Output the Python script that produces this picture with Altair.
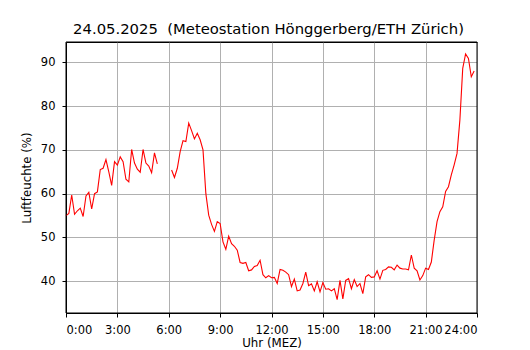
import altair as alt
import pandas as pd

# Relative humidity (%) in 10-minute steps, 24.05.2025
# segment 1: 00:00 .. 05:20
seg1_start = "00:00"
seg1_values = [
    55.0, 55.5, 59.7, 55.3, 56.1, 56.7,   # 0h
    54.8, 59.5, 60.3, 56.5, 60.0, 60.4,   # 1h
    65.5, 65.8, 67.8, 65.0, 61.9, 67.3,   # 2h
    66.5, 68.4, 67.3, 63.3, 62.7, 70.1,   # 3h
    67.0, 65.6, 64.9, 70.1, 67.0, 66.3,   # 4h
    64.8, 69.3, 66.8,                     # 5h
]
# segment 2: 06:10 .. 23:50
seg2_start = "06:10"
seg2_values = [
    65.4, 63.7, 65.8, 69.6, 72.1,         # 6h (from 6:10)
    71.9, 76.1, 74.4, 72.5, 73.8, 72.3,   # 7h
    70.0, 60.0, 55.1, 53.0, 51.4, 53.6,   # 8h
    53.2, 49.0, 47.3, 50.3, 48.6, 48.0,   # 9h
    47.1, 44.3, 44.1, 44.3, 42.4, 42.6,   # 10h
    43.4, 43.6, 44.8, 41.5, 40.8, 41.3,   # 11h
    40.8, 40.9, 39.5, 42.7, 42.5, 42.1,   # 12h
    41.5, 38.8, 40.5, 37.8, 38.0, 39.5,   # 13h
    42.1, 39.0, 39.4, 37.8, 39.9, 37.6,   # 14h
    39.7, 38.2, 38.3, 37.8, 38.3, 35.8,   # 15h
    40.2, 36.0, 40.2, 40.6, 38.3, 40.4,   # 16h
    38.8, 39.5, 37.2, 41.0, 41.5, 40.9,   # 17h
    41.0, 42.4, 40.5, 42.5, 42.7, 43.3,   # 18h
    43.2, 42.6, 43.7, 43.0, 42.8, 42.8,   # 19h
    42.6, 46.0, 43.0, 42.4, 40.3, 41.3,   # 20h
    43.0, 42.7, 44.4, 49.4, 53.6, 55.9,   # 21h
    57.0, 60.5, 61.6, 64.3, 66.6, 69.2,   # 22h
    76.8, 88.6, 91.9, 90.9, 86.7, 88.0,   # 23h
]
step_minutes = 10
x_ticks = [0, 3, 6, 9, 12, 15, 18, 21, 24]
y_ticks = [40, 50, 60, 70, 80, 90]
title_text = "24.05.2025\u00a0 (Meteostation Hönggerberg/ETH Zürich)"

def to_hours(hhmm):
    h, m = hhmm.split(":")
    return int(h) + int(m) / 60.0

rows = []
for seg, start, vals in [(1, seg1_start, seg1_values), (2, seg2_start, seg2_values)]:
    t0 = to_hours(start)
    for i, v in enumerate(vals):
        rows.append({"hour": t0 + i * step_minutes / 60.0, "rh": v, "seg": seg})
df = pd.DataFrame(rows)

W, H = 411, 271
FONT = "DejaVu Sans"

line = alt.Chart(df).mark_line(color="red", strokeWidth=1.1).encode(
    x=alt.X("hour:Q",
            scale=alt.Scale(domain=[0, 24], nice=False, zero=False),
            axis=alt.Axis(values=x_ticks, labelExpr="datum.value + ':00'",
                          title="Uhr (MEZ)", labelPadding=7, titlePadding=2)),
    y=alt.Y("rh:Q",
            scale=alt.Scale(domain=[32.76, 94.63], nice=False, zero=False),
            axis=alt.Axis(values=y_ticks, title="Luftfeuchte (%)",
                          labelPadding=7, titlePadding=8)),
    detail="seg:N",
)

frame = alt.Chart(pd.DataFrame({"a": [0]})).mark_rect(
    fillOpacity=0, stroke="black", strokeWidth=1
).encode(x=alt.value(0), x2=alt.value(W), y=alt.value(0), y2=alt.value(H))

chart = alt.layer(line, frame).properties(
    width=W, height=H,
    title=alt.TitleParams(
        text=title_text,
        font=FONT, fontSize=14.8, fontWeight="normal", color="black",
        anchor="middle", baseline="bottom", offset=4, dy=14, dx=-3,
    ),
    autosize=alt.AutoSizeParams(type="none"),
    padding={"left": 58, "top": 34, "right": 45, "bottom": 36},
).configure_axis(
    labelFont=FONT, labelFontSize=11.5, labelColor="black",
    titleFont=FONT, titleFontSize=11.8, titleFontWeight="normal", titleColor="black",
    domainColor="black", domainWidth=1,
    tickColor="black", tickSize=4, tickWidth=1,
    grid=True, gridColor="#b0b0b0", gridWidth=1,
).configure_view(
    stroke="black", strokeWidth=1
)

chart.save("out.html", embed_options={"renderer": "svg", "actions": False})
